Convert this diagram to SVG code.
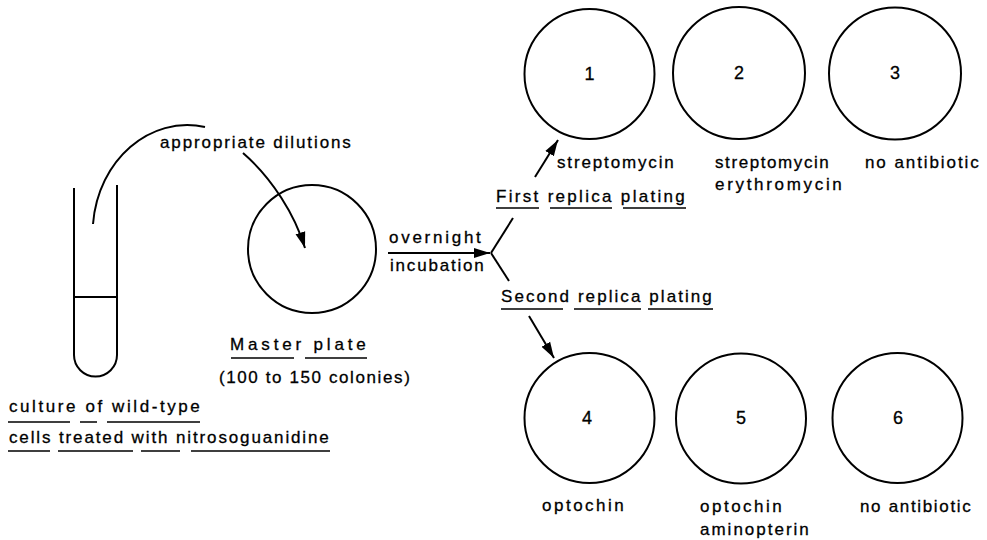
<svg xmlns="http://www.w3.org/2000/svg" width="987" height="540" viewBox="0 0 987 540">
<defs>
<style>
.t{font-family:"Liberation Sans",Arial,sans-serif;font-size:17px;fill:#000;stroke:#000;stroke-width:0.3;letter-spacing:1.2px}
.n{font-family:"Liberation Sans",Arial,sans-serif;font-size:18px;fill:#000;stroke:#000;stroke-width:0.3;text-anchor:middle}
.plate{fill:none;stroke:#000;stroke-width:2}
.ln{fill:none;stroke:#000;stroke-width:2}
.ul{fill:none;stroke:#000;stroke-width:1.6}
</style>
<marker id="ah" markerUnits="userSpaceOnUse" markerWidth="17" markerHeight="11" refX="16" refY="5.5" orient="auto">
<path d="M0,0.5 L16,5.5 L0,10.5 z" fill="#000"/>
</marker>
</defs>
<rect width="987" height="540" fill="#fff"/>

<g id="tube">
<path class="ln" d="M74,188 L74,355 A21.5,21.5 0 0 0 117,355 L117,185"/>
<path class="ln" d="M74,297 L117,297"/>
<text class="t" x="9" y="412" textLength="192" lengthAdjust="spacing">culture of wild-type</text>
<path class="ul" d="M8,422 H70 M80,422 H97 M107,422 H200"/>
<text class="t" x="9" y="443" textLength="321" lengthAdjust="spacing">cells treated with nitrosoguanidine</text>
<path class="ul" d="M8,451 H50 M58,451 H133 M141,451 H180 M191,451 H330"/>
</g>

<g id="master">
<circle class="plate" cx="312" cy="249" r="64"/>
<text class="t" x="230" y="350" textLength="137" lengthAdjust="spacing">Master plate</text>
<path class="ul" d="M231,358 H294 M305,358 H367"/>
<text class="t" x="219" y="383" textLength="192" lengthAdjust="spacing">(100 to 150 colonies)</text>
</g>

<g id="plate1">
<circle class="plate" cx="589.5" cy="74" r="65"/>
<text class="n" x="589.5" y="80">1</text>
<text class="t" x="557" y="168" textLength="118" lengthAdjust="spacing">streptomycin</text>
</g>
<g id="plate2">
<circle class="plate" cx="739" cy="73" r="66"/>
<text class="n" x="739" y="79">2</text>
<text class="t" x="715" y="168" textLength="115" lengthAdjust="spacing">streptomycin</text>
<text class="t" x="715" y="190" textLength="128" lengthAdjust="spacing">erythromycin</text>
</g>
<g id="plate3">
<circle class="plate" cx="895" cy="73.5" r="66"/>
<text class="n" x="895" y="79">3</text>
<text class="t" x="865" y="168" textLength="115" lengthAdjust="spacing">no antibiotic</text>
</g>
<g id="plate4">
<circle class="plate" cx="589.5" cy="418" r="65"/>
<text class="n" x="587" y="424">4</text>
<text class="t" x="542" y="511" textLength="83" lengthAdjust="spacing">optochin</text>
</g>
<g id="plate5">
<circle class="plate" cx="741" cy="418.5" r="65"/>
<text class="n" x="741" y="424">5</text>
<text class="t" x="700" y="512" textLength="83" lengthAdjust="spacing">optochin</text>
<text class="t" x="700" y="535" textLength="110" lengthAdjust="spacing">aminopterin</text>
</g>
<g id="plate6">
<circle class="plate" cx="897.5" cy="418" r="65"/>
<text class="n" x="898" y="424">6</text>
<text class="t" x="860" y="512" textLength="112" lengthAdjust="spacing">no antibiotic</text>
</g>

<g id="labels">
<text class="t" x="160" y="148" textLength="192" lengthAdjust="spacing">appropriate dilutions</text>
<text class="t" x="389" y="243" textLength="93" lengthAdjust="spacing">overnight</text>
<text class="t" x="390" y="271" textLength="95" lengthAdjust="spacing">incubation</text>
<text class="t" x="496" y="202" textLength="190" lengthAdjust="spacing">First replica plating</text>
<path class="ul" d="M496,208 H539 M550,208 H612 M623,208 H686"/>
<text class="t" x="501" y="302" textLength="212" lengthAdjust="spacing">Second replica plating</text>
<path class="ul" d="M501,309 H563 M574,309 H641 M648,309 H713"/>
</g>

<g id="connectors">
<path class="ln" d="M93,224 C98,160 150,115 205,127"/>
<path class="ln" d="M243,153 C272,178 295,215 305,248" marker-end="url(#ah)"/>
<path class="ln" d="M388,253 L490,253" marker-end="url(#ah)"/>
<path class="ln" d="M491,253 L513,218"/>
<path class="ln" d="M535,177 L558,140" marker-end="url(#ah)"/>
<path class="ln" d="M491,253 L509,281"/>
<path class="ln" d="M529,316 L554,358" marker-end="url(#ah)"/>
</g>
</svg>
